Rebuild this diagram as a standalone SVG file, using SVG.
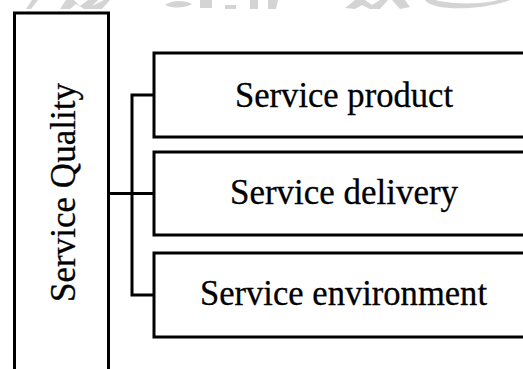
<svg xmlns="http://www.w3.org/2000/svg" width="523" height="369" viewBox="0 0 523 369">
  <style>
    .box { fill: #ffffff; stroke: #000000; stroke-width: 3; }
    .wire { fill: none; stroke: #000000; stroke-width: 3; }
    .label { font-family: "Liberation Serif", "Times New Roman", serif; font-size: 36px; fill: #000000; stroke: #000000; stroke-width: 0.3; }
    .mark { fill: #d4d4d4; }
  </style>
  <rect width="523" height="369" fill="#ffffff"/>

  <!-- faint background mark along the top edge -->
  <g id="watermark">
    <path class="mark" d="M26 9 L32 0 L38 0 L31 9 Z"/>
    <path class="mark" d="M60 9 L66 0 L74 0 L80 6 L88 0 L98 0 L92 6 L104 0 L110 0 L102 9 L92 9 L84 9 L76 4 L70 9 Z"/>
    <path class="mark" d="M165 5 C172 0 185 0 192 4 C186 8 174 9 165 5 Z"/>
    <path class="mark" d="M200 0 L212 0 L212 8 L200 8 Z"/>
    <path class="mark" d="M225 5 L236 5 L236 9 L225 9 Z"/>
    <path class="mark" d="M250 0 L258 0 L258 9 L250 9 Z M268 0 L278 0 L276 9 L268 9 Z"/>
    <path class="mark" d="M345 8 L355 0 L365 0 L372 5 L380 0 L388 0 L380 9 L370 9 L362 5 L355 9 Z"/>
    <path class="mark" d="M392 0 L405 0 L410 7 L400 9 Z"/>
    <path class="mark" d="M425 0 C430 8 455 10 480 7 C495 5 505 2 510 0 L498 0 C488 3 470 4 455 3 C445 2 438 1 436 0 Z"/>
  </g>

  <g id="service-quality">
    <rect class="box" x="14.5" y="13" width="94" height="380"/>
    <text class="label" transform="translate(75,192.5) rotate(-90)" text-anchor="middle" textLength="219" lengthAdjust="spacingAndGlyphs">Service Quality</text>
  </g>

  <g id="connectors">
    <path class="wire" d="M108 193.5 H154"/>
    <path class="wire" d="M154 95 H132 V295 H154"/>
  </g>

  <g id="service-product">
    <rect class="box" x="154" y="53" width="400" height="84"/>
    <text class="label" x="344" y="107" text-anchor="middle" textLength="218" lengthAdjust="spacingAndGlyphs">Service product</text>
  </g>

  <g id="service-delivery">
    <rect class="box" x="154" y="152" width="400" height="83"/>
    <text class="label" x="344" y="204" text-anchor="middle" textLength="228" lengthAdjust="spacingAndGlyphs">Service delivery</text>
  </g>

  <g id="service-environment">
    <rect class="box" x="154" y="253" width="400" height="84"/>
    <text class="label" x="343.5" y="305" text-anchor="middle" textLength="287" lengthAdjust="spacingAndGlyphs">Service environment</text>
  </g>
</svg>
